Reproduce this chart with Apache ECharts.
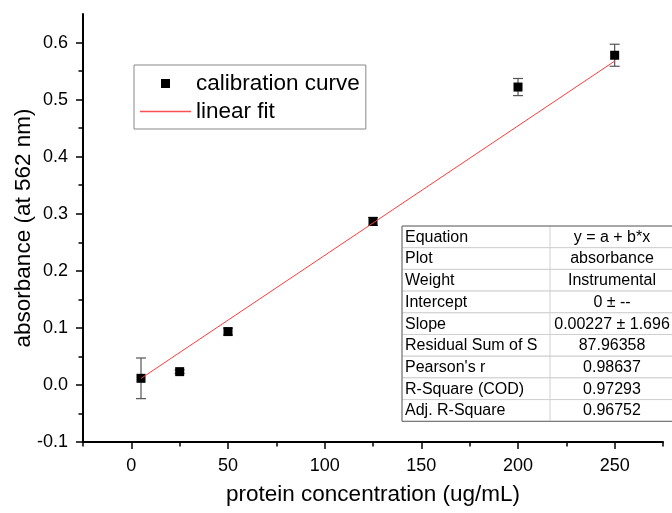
<!DOCTYPE html>
<html>
<head>
<meta charset="utf-8">
<script src="https://cdn.jsdelivr.net/npm/echarts@6/dist/echarts.min.js"></script>
<style>
  html, body { margin: 0; padding: 0; background: #fff; }
  #calibration-chart { width: 672px; height: 513px; }
</style>
</head>
<body>
<div id="calibration-chart"></div>
<script>
const concentration = [5, 25, 50, 125, 200, 250];
const absorbance = [0.0116, 0.0233, 0.0935, 0.2865, 0.522, 0.5777];
const absorbanceErr = [0.0356, 0.003, 0.006, 0.007, 0.015, 0.0193];

// fitted line end points
const fitX = [5, 250];
const fitY = [0.0114, 0.5675];

// tick labels
const xTicks = [0, 50, 100, 150, 200, 250];
const xMinorTicks = [-25, 25, 75, 125, 175, 225, 275];
const yTicks = [-0.1, 0, 0.1, 0.2, 0.3, 0.4, 0.5, 0.6];
const yMinorTicks = [-0.05, 0.05, 0.15, 0.25, 0.35, 0.45, 0.55];

// fit report table
const tableKeys = ['Equation', 'Plot', 'Weight', 'Intercept', 'Slope',
  'Residual Sum of S', "Pearson's r", 'R-Square (COD)', 'Adj. R-Square'];
const tableValues = ['y = a + b*x', 'absorbance', 'Instrumental', '0 \u00b1 --',
  '0.00227 \u00b1 1.696', '87.96358', '0.98637', '0.97293', '0.96752'];

const font = '"Liberation Sans", Arial, sans-serif';
const calibrationChart = echarts.init(document.getElementById('calibration-chart'));

const points = concentration.map((x, i) => [x, absorbance[i]]);
const errorData = concentration.map((x, i) => [x, absorbance[i] - absorbanceErr[i], absorbance[i] + absorbanceErr[i]]);
const fitData = fitX.map((x, i) => [x, fitY[i]]);

// table graphic
const tableLeft = 402, tableTop = 226, rowH = 21.7, splitX = 550, tableRight = 680;
const tableGraphic = [];
tableKeys.forEach((key, i) => {
  const y = tableTop + i * rowH;
  tableGraphic.push({
    type: 'rect', shape: { x: tableLeft, y: y, width: tableRight - tableLeft, height: rowH },
    style: { fill: '#fff', stroke: '#d0d0d0', lineWidth: 1 }, z: 10
  });
  tableGraphic.push({
    type: 'text', x: tableLeft + 3, y: y + rowH / 2 + 0.5,
    style: { text: key, font: '16px ' + font, fill: '#000', verticalAlign: 'middle' }, z: 11
  });
  tableGraphic.push({
    type: 'text', x: 612, y: y + rowH / 2 + 0.5,
    style: { text: tableValues[i], font: '16px ' + font, fill: '#000', align: 'center', verticalAlign: 'middle' }, z: 11
  });
});
tableGraphic.push({
  type: 'line', shape: { x1: splitX, y1: tableTop, x2: splitX, y2: tableTop + rowH * 9 },
  style: { stroke: '#d0d0d0', lineWidth: 1 }, z: 12
});
tableGraphic.push({
  type: 'rect', shape: { x: tableLeft, y: tableTop, width: tableRight - tableLeft, height: rowH * 9 },
  style: { fill: 'none', stroke: '#666', lineWidth: 1 }, z: 12
});

const tickStyle = { color: '#000', width: 1.5 };

const option = {
  animation: false,
  grid: { left: 83, right: 9, top: 14, bottom: 71, outerBoundsMode: 'none', containLabel: false },
  legend: {
    orient: 'vertical',
    left: 134,
    top: 65,
    padding: [7, 6, 6, 6],
    itemGap: 5,
    itemWidth: 51,
    itemHeight: 9,
    symbolKeepAspect: true,
    borderColor: '#888',
    borderWidth: 1,
    textStyle: { fontSize: 22.5, fontFamily: font, color: '#000' },
    data: [
      { name: 'calibration curve', icon: 'path://M0,0L10,0L10,10L0,10Z', itemStyle: { color: '#000' } },
      { name: 'linear fit', icon: 'path://M0,0L50,0L50,1.3L0,1.3Z', itemStyle: { color: '#ff5050', borderWidth: 0 } }
    ]
  },
  xAxis: [{
    type: 'value', min: -25, max: 275,
    name: 'protein concentration (ug/mL)',
    nameLocation: 'middle', nameGap: 41, nameMoveOverlap: false,
    nameTextStyle: { fontSize: 22.5, fontFamily: font, color: '#000' },
    axisLine: { onZero: false, lineStyle: { color: '#000', width: 2 } },
    axisTick: { customValues: xTicks, length: 7, lineStyle: tickStyle },
    axisLabel: { customValues: xTicks, fontSize: 18, fontFamily: font, color: '#000', margin: 15 },
    splitLine: { show: false }
  }, {
    type: 'value', min: -25, max: 275, position: 'bottom',
    axisLine: { show: false, onZero: false },
    axisTick: { customValues: xMinorTicks, length: 4.5, lineStyle: tickStyle },
    axisLabel: { show: false },
    splitLine: { show: false }
  }],
  yAxis: [{
    type: 'value', min: -0.1, max: 0.65,
    name: 'absorbance (at 562 nm)',
    nameLocation: 'middle', nameGap: 48, nameMoveOverlap: false,
    nameTextStyle: { fontSize: 22.5, fontFamily: font, color: '#000' },
    axisLine: { show: true, onZero: false, lineStyle: { color: '#000', width: 2 } },
    axisTick: { show: true, customValues: yTicks, length: 7, lineStyle: tickStyle },
    axisLabel: {
      customValues: yTicks, fontSize: 18, fontFamily: font, color: '#000', margin: 15,
      formatter: v => v.toFixed(1)
    },
    splitLine: { show: false }
  }, {
    type: 'value', min: -0.1, max: 0.65, position: 'left',
    axisLine: { show: false, onZero: false },
    axisTick: { show: true, customValues: yMinorTicks, length: 4.5, lineStyle: tickStyle },
    axisLabel: { show: false },
    splitLine: { show: false }
  }],
  series: [{
    name: 'error',
    type: 'custom',
    data: errorData,
    z: 2,
    renderItem: (params, api) => {
      const x = api.value(0);
      const lo = api.coord([x, api.value(1)]);
      const hi = api.coord([x, api.value(2)]);
      const cap = 5;
      const style = { stroke: '#555', lineWidth: 1.2 };
      return {
        type: 'group',
        children: [
          { type: 'line', shape: { x1: lo[0], y1: lo[1], x2: hi[0], y2: hi[1] }, style },
          { type: 'line', shape: { x1: lo[0] - cap, y1: lo[1], x2: lo[0] + cap, y2: lo[1] }, style },
          { type: 'line', shape: { x1: hi[0] - cap, y1: hi[1], x2: hi[0] + cap, y2: hi[1] }, style }
        ]
      };
    }
  }, {
    name: 'calibration curve',
    type: 'scatter',
    symbol: 'rect',
    symbolSize: 9,
    data: points,
    z: 3,
    itemStyle: { color: '#000', opacity: 1 }
  }, {
    name: 'linear fit',
    type: 'line',
    data: fitData,
    showSymbol: false,
    symbol: 'none',
    z: 4,
    lineStyle: { color: '#ff3b3b', width: 1 },
    itemStyle: { color: '#ff3b3b' }
  }],
  graphic: tableGraphic
};

calibrationChart.setOption(option);
</script>
</body>
</html>
